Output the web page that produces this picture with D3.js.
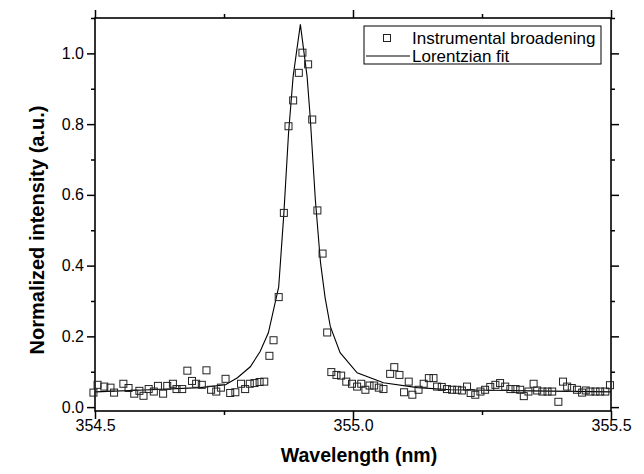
<!DOCTYPE html>
<html>
<head>
<meta charset="utf-8">
<script src="https://cdn.jsdelivr.net/npm/d3@7"></script>
<style>
  body { margin: 0; background: #fff; }
  text { font-family: "Liberation Sans", Arial, sans-serif; fill: #000; }
</style>
</head>
<body>
<div id="chart"></div>
<script>
// measured points (wavelength in nm, normalized intensity)
const wavelength = [
  354.497, 354.505, 354.518, 354.530, 354.537, 354.555, 354.565, 354.576, 354.586, 354.594,
  354.604, 354.614, 354.622, 354.632, 354.640, 354.651, 354.658, 354.669, 354.679, 354.688,
  354.696, 354.707, 354.716, 354.725, 354.735, 354.744, 354.753, 354.762, 354.772, 354.783,
  354.791, 354.800, 354.809, 354.819, 354.828, 354.838, 354.846, 354.856, 354.866, 354.875,
  354.884, 354.895, 354.902, 354.913, 354.921, 354.931, 354.941, 354.950, 354.958, 354.968,
  354.977, 354.987, 354.998, 355.008, 355.016, 355.024, 355.032, 355.041, 355.050, 355.059,
  355.072, 355.080, 355.090, 355.099, 355.108, 355.115, 355.127, 355.137, 355.147, 355.156,
  355.163, 355.172, 355.182, 355.192, 355.202, 355.211, 355.221, 355.228, 355.237, 355.247,
  355.256, 355.266, 355.276, 355.285, 355.295, 355.305, 355.315, 355.324, 355.331, 355.340,
  355.350, 355.357, 355.367, 355.377, 355.386, 355.398, 355.407, 355.415, 355.424, 355.434,
  355.444, 355.451, 355.460, 355.470, 355.479, 355.489, 355.498
];
const intensity = [
  0.041, 0.063, 0.058, 0.055, 0.041, 0.066, 0.054, 0.038, 0.046, 0.032,
  0.051, 0.044, 0.060, 0.038, 0.060, 0.066, 0.051, 0.051, 0.103, 0.074,
  0.066, 0.063, 0.104, 0.049, 0.044, 0.055, 0.080, 0.040, 0.042, 0.066,
  0.051, 0.066, 0.068, 0.071, 0.072, 0.145, 0.189, 0.311, 0.549, 0.794,
  0.867, 0.945, 1.002, 0.969, 0.813, 0.556, 0.434, 0.211, 0.099, 0.091,
  0.089, 0.072, 0.066, 0.058, 0.066, 0.049, 0.061, 0.061, 0.055, 0.051,
  0.094, 0.113, 0.091, 0.042, 0.072, 0.035, 0.049, 0.066, 0.082, 0.082,
  0.058, 0.057, 0.051, 0.049, 0.049, 0.047, 0.058, 0.040, 0.035, 0.044,
  0.049, 0.057, 0.063, 0.068, 0.058, 0.051, 0.051, 0.049, 0.031, 0.044,
  0.066, 0.047, 0.044, 0.044, 0.044, 0.015, 0.072, 0.058, 0.054, 0.049,
  0.041, 0.047, 0.044, 0.044, 0.044, 0.044, 0.062
];

// fit curve
const fitWavelength = [
  354.501, 354.607, 354.704, 354.753, 354.776, 354.801, 354.820, 354.836, 354.856, 354.866,
  354.875, 354.884, 354.898, 354.911, 354.917, 354.927, 354.937, 354.946, 354.956, 354.975,
  355.008, 355.059, 355.125, 355.189, 355.344, 355.500
];
const fitIntensity = [
  0.043, 0.049, 0.055, 0.063, 0.083, 0.114, 0.157, 0.210, 0.340, 0.547,
  0.773, 0.935, 1.082, 0.935, 0.821, 0.587, 0.409, 0.309, 0.228, 0.154,
  0.097, 0.069, 0.055, 0.049, 0.046, 0.043
];

const xMajorTicks = [354.5, 355.0, 355.5];
const xMinorTicks = [354.75, 355.25];
const yMajorTicks = [0, 0.2, 0.4, 0.6, 0.8, 1.0];
const yMinorTicks = [0.1, 0.3, 0.5, 0.7, 0.9, 1.1];
const legendLabels = ["Instrumental broadening", "Lorentzian fit"];
const xTitle = "Wavelength (nm)";
const yTitle = "Normalized intensity (a.u.)";

const margin = { top: 18, right: 33, bottom: 63, left: 95 },
  width = 644 - margin.left - margin.right,
  height = 474 - margin.top - margin.bottom;

const svg = d3
  .select("#chart")
  .append("svg")
  .attr("width", 644)
  .attr("height", 474)
  .append("g")
  .attr("transform", `translate(${margin.left},${margin.top})`);

const x = d3.scaleLinear().domain([354.5, 355.5]).range([0, width]);
const y = d3.scaleLinear().domain([-0.011, 1.1]).range([height, 0]);

const fmt = d3.format(".1f");

function styleAxis(g) {
  g.select(".domain").remove();
  g.selectAll("line").attr("stroke", "#000").attr("stroke-width", 1.5);
  g.selectAll("text").attr("font-size", "16px").attr("fill", "#000");
}

// bottom
svg.append("g").attr("transform", `translate(0,${height})`)
  .call(d3.axisBottom(x).tickValues(xMajorTicks).tickFormat(fmt).tickSize(8).tickPadding(1))
  .call(styleAxis);
svg.append("g").attr("transform", `translate(0,${height})`)
  .call(d3.axisBottom(x).tickValues(xMinorTicks).tickFormat("").tickSize(4))
  .call(styleAxis);
// top
svg.append("g")
  .call(d3.axisTop(x).tickValues(xMajorTicks).tickFormat("").tickSize(8))
  .call(styleAxis);
svg.append("g")
  .call(d3.axisTop(x).tickValues(xMinorTicks).tickFormat("").tickSize(4))
  .call(styleAxis);
// left
svg.append("g")
  .call(d3.axisLeft(y).tickValues(yMajorTicks).tickFormat(fmt).tickSize(8).tickPadding(3))
  .call(styleAxis);
svg.append("g")
  .call(d3.axisLeft(y).tickValues(yMinorTicks).tickFormat("").tickSize(4))
  .call(styleAxis);
// right
svg.append("g").attr("transform", `translate(${width},0)`)
  .call(d3.axisRight(y).tickValues(yMajorTicks).tickFormat("").tickSize(8))
  .call(styleAxis);
svg.append("g").attr("transform", `translate(${width},0)`)
  .call(d3.axisRight(y).tickValues(yMinorTicks).tickFormat("").tickSize(4))
  .call(styleAxis);

// frame
svg.append("rect")
  .attr("width", width)
  .attr("height", height)
  .attr("fill", "none")
  .attr("stroke", "#000")
  .attr("stroke-width", 1.6);

// fit line
const fitData = fitWavelength.map((d, i) => [d, fitIntensity[i]]);
svg.append("path")
  .datum(fitData)
  .attr("fill", "none")
  .attr("stroke", "#000")
  .attr("stroke-width", 1.1)
  .attr("d", d3.line().x((d) => x(d[0])).y((d) => y(d[1])));

// measured squares
const sq = 7;
svg.append("g")
  .selectAll("rect")
  .data(wavelength.map((d, i) => [d, intensity[i]]))
  .join("rect")
  .attr("x", (d) => x(d[0]) - sq / 2)
  .attr("y", (d) => y(d[1]) - sq / 2)
  .attr("width", sq)
  .attr("height", sq)
  .attr("fill", "none")
  .attr("stroke", "#222")
  .attr("stroke-width", 1);

// axis titles
svg.append("text")
  .attr("x", 264)
  .attr("y", height + 51)
  .attr("text-anchor", "middle")
  .attr("font-size", "19.5px")
  .attr("font-weight", "bold")
  .text(xTitle);

svg.append("text")
  .attr("transform", `translate(${-51},${212}) rotate(-90)`)
  .attr("text-anchor", "middle")
  .attr("font-size", "20px")
  .attr("font-weight", "bold")
  .text(yTitle);

// legend
const legend = svg.append("g").attr("transform", `translate(${364 - margin.left},${26 - margin.top})`);
legend.append("rect")
  .attr("width", 237)
  .attr("height", 38)
  .attr("fill", "#fff")
  .attr("stroke", "#000")
  .attr("stroke-width", 1);

legend.append("rect")
  .attr("x", 23 - sq / 2)
  .attr("y", 12 - sq / 2)
  .attr("width", sq)
  .attr("height", sq)
  .attr("fill", "none")
  .attr("stroke", "#222");

legend.append("line")
  .attr("x1", 2)
  .attr("x2", 46)
  .attr("y1", 30)
  .attr("y2", 30)
  .attr("stroke", "#000")
  .attr("stroke-width", 1.1);

legend
  .selectAll("text.lbl")
  .data(legendLabels)
  .join("text")
  .attr("class", "lbl")
  .attr("x", 48)
  .attr("y", (d, i) => 12 + i * 18)
  .attr("dy", "0.35em")
  .attr("font-size", "17px")
  .text((d) => d);
</script>
</body>
</html>
